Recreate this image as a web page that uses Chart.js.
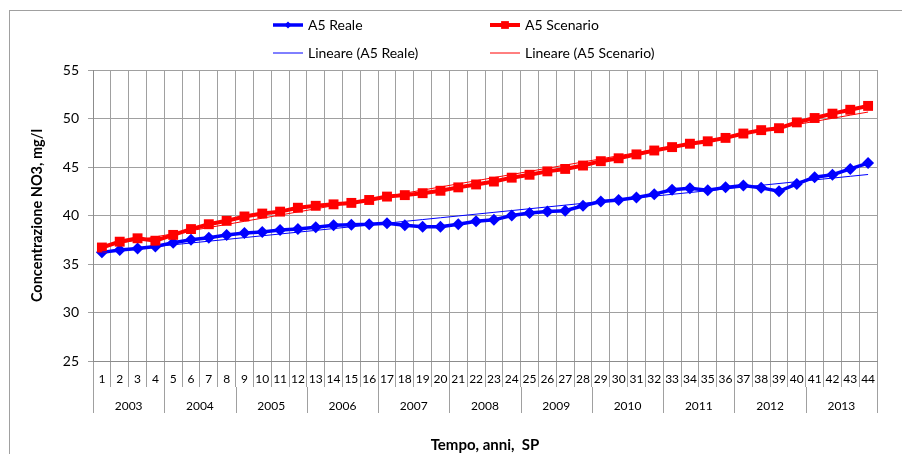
<!DOCTYPE html>
<html>
<head>
<meta charset="utf-8">
<script src="https://cdn.jsdelivr.net/npm/chart.js@4.4.0/dist/chart.umd.min.js"></script>
<style>
  html, body { margin: 0; padding: 0; background: #fff; }
  #wrap { width: 902px; height: 454px; }
</style>
</head>
<body>
<div id="wrap"><canvas id="chart" width="902" height="454"></canvas></div>
<script>
// stress periods (SP) 1..44, four per year
const periods = ['1','2','3','4','5','6','7','8','9','10','11','12','13','14','15','16','17','18','19','20','21','22',
  '23','24','25','26','27','28','29','30','31','32','33','34','35','36','37','38','39','40','41','42','43','44'];
const years = ['2003','2004','2005','2006','2007','2008','2009','2010','2011','2012','2013'];

const realeValues = [36.2, 36.45, 36.6, 36.8, 37.2, 37.5, 37.7, 38.0, 38.2, 38.3, 38.5, 38.6, 38.8, 39.0, 39.05,
  39.1, 39.2, 39.0, 38.85, 38.85, 39.1, 39.4, 39.55, 40.0, 40.25, 40.4, 40.5, 41.0, 41.45, 41.6,
  41.85, 42.2, 42.65, 42.8, 42.6, 42.9, 43.1, 42.85, 42.5, 43.25, 43.95, 44.2, 44.8, 45.4];
const scenarioValues = [36.7, 37.3, 37.65, 37.4, 38.0, 38.6, 39.1, 39.45, 39.9, 40.2, 40.4, 40.8, 41.0, 41.15, 41.3,
  41.6, 41.95, 42.1, 42.3, 42.55, 42.9, 43.2, 43.5, 43.9, 44.2, 44.55, 44.8, 45.15, 45.6, 45.9,
  46.3, 46.7, 47.05, 47.4, 47.65, 48.0, 48.45, 48.8, 49.0, 49.6, 50.05, 50.5, 50.9, 51.3];

const FONT = 'Lato, "Open Sans", sans-serif';

// Excel style linear trendline (least squares on x = 1..n)
function linearTrend(values) {
  const n = values.length;
  let sx = 0, sy = 0, sxy = 0, sxx = 0;
  values.forEach((v, i) => {
    const x = i + 1;
    sx += x; sy += v; sxy += x * v; sxx += x * x;
  });
  const slope = (n * sxy - sx * sy) / (n * sxx - sx * sx);
  const intercept = (sy - slope * sx) / n;
  return values.map((_, i) => intercept + slope * (i + 1));
}

// outer frame of the chart object
const framePlugin = {
  id: 'frame',
  beforeDraw(chart) {
    const ctx = chart.ctx;
    ctx.save();
    ctx.fillStyle = '#fff';
    ctx.fillRect(0, 0, chart.width, chart.height);
    ctx.strokeStyle = '#a0a0a0';
    ctx.lineWidth = 1;
    ctx.strokeRect(9.5, 10.5, 1200, 1200);
    ctx.restore();
  }
};

// second row of the category axis: years
const yearRowPlugin = {
  id: 'yearRow',
  afterDraw(chart) {
    const ctx = chart.ctx;
    const xs = chart.scales.x;
    const step = xs.getPixelForValue(1) - xs.getPixelForValue(0);
    const y0 = xs.top + 26;
    ctx.save();
    ctx.strokeStyle = '#a0a0a0';
    ctx.lineWidth = 1;
    ctx.fillStyle = '#000';
    ctx.font = '12px ' + FONT;
    ctx.textAlign = 'center';
    ctx.textBaseline = 'middle';
    years.forEach((yr, g) => {
      const left = xs.getPixelForValue(g * 4) - step / 2;
      const right = xs.getPixelForValue(g * 4 + 3) + step / 2;
      [left, right].forEach(px => {
        const x = Math.round(px) + 0.5;
        ctx.beginPath();
        ctx.moveTo(x, y0);
        ctx.lineTo(x, y0 + 26);
        ctx.stroke();
      });
      ctx.fillText(yr, (left + right) / 2, xs.top + 45);
    });
    ctx.restore();
  }
};

// 2x2 legend at the top, like the Excel one
const legendPlugin = {
  id: 'legendGrid',
  afterDraw(chart) {
    const ctx = chart.ctx;
    const spots = [[273, 25], [490, 25], [273, 53], [490, 53]];
    ctx.save();
    chart.data.datasets.forEach((ds, i) => {
      const [x, y] = spots[i];
      ctx.strokeStyle = ds.borderColor;
      ctx.lineWidth = ds.borderWidth;
      ctx.beginPath();
      ctx.moveTo(x, y);
      ctx.lineTo(x + 30, y);
      ctx.stroke();
      if (ds.pointRadius > 0) {
        ctx.fillStyle = ds.borderColor;
        Chart.helpers.drawPoint(ctx, { pointStyle: ds.pointStyle, radius: ds.pointStyle === 'rect' ? 5.5 : 3.5, borderWidth: 0 }, x + 15, y);
      }
      ctx.fillStyle = '#000';
      ctx.font = '14px ' + FONT;
      ctx.textAlign = 'left';
      ctx.textBaseline = 'middle';
      ctx.fillText(ds.label, x + 35, y);
    });
    ctx.restore();
  }
};

new Chart(document.getElementById('chart'), {
  type: 'line',
  data: {
    labels: periods,
    datasets: [
      {
        label: 'A5 Reale',
        data: realeValues,
        borderColor: '#0000ff',
        backgroundColor: '#0000ff',
        borderWidth: 3.5,
        pointStyle: 'rectRot',
        pointRadius: 6,
        pointBorderWidth: 0,
        order: 2
      },
      {
        label: 'A5 Scenario',
        data: scenarioValues,
        borderColor: '#ff0000',
        backgroundColor: '#ff0000',
        borderWidth: 4,
        pointStyle: 'rect',
        pointRadius: 7,
        pointBorderWidth: 0,
        order: 1
      },
      {
        label: 'Lineare (A5 Reale)',
        data: linearTrend(realeValues),
        borderColor: '#0000ff',
        borderWidth: 1,
        pointRadius: 0,
        order: 0
      },
      {
        label: 'Lineare (A5 Scenario)',
        data: linearTrend(scenarioValues),
        borderColor: '#ff0000',
        borderWidth: 1,
        pointRadius: 0,
        order: 0
      }
    ]
  },
  options: {
    responsive: false,
    animation: false,
    events: [],
    layout: { padding: { top: 70, right: 25, left: 0, bottom: 0 } },
    plugins: {
      legend: { display: false },
      tooltip: { enabled: false }
    },
    scales: {
      x: {
        type: 'category',
        offset: true,
        grid: { offset: true, color: '#a0a0a0', tickLength: 26 },
        border: { color: '#8c8c8c' },
        ticks: { autoSkip: false, maxRotation: 0, padding: -15, color: '#000', font: { family: FONT, size: 12 } },
        title: {
          display: true,
          text: 'Tempo, anni,  SP',
          color: '#000',
          font: { family: FONT, size: 15, weight: 'bold' },
          padding: { top: 0, bottom: 0 }
        },
        afterFit(scale) { scale.height = 93; }
      },
      y: {
        min: 25,
        max: 55,
        ticks: { stepSize: 5, padding: 9, color: '#000', font: { family: FONT, size: 14 } },
        grid: { color: '#a0a0a0', tickLength: 5 },
        border: { color: '#8c8c8c' },
        title: {
          display: true,
          text: 'Concentrazione NO3, mg/l',
          color: '#000',
          font: { family: FONT, size: 14.5, weight: 'bold' },
          padding: { top: 29 }
        },
        afterFit(scale) { scale.width = 93; }
      }
    }
  },
  plugins: [framePlugin, yearRowPlugin, legendPlugin]
});
</script>
</body>
</html>
